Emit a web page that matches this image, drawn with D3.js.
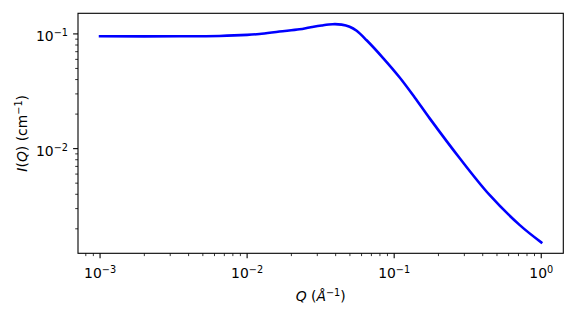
<!DOCTYPE html>
<html>
<head>
<meta charset="utf-8">
<script src="https://cdn.jsdelivr.net/npm/d3@7"></script>
<style>
  body { margin: 0; background: #fff; }
  svg { display: block; font-family: "DejaVu Sans", sans-serif; }
</style>
</head>
<body>
<div id="chart"></div>
<script>
// values
var qValues = [0.001, 0.003466, 0.006487, 0.01, 0.01212, 0.01659, 0.0227, 0.02655, 0.0321, 0.03814,
  0.04391, 0.04978, 0.05556, 0.06497, 0.08352, 0.109, 0.1379, 0.1744, 0.2792, 0.4468, 0.7149, 1.0];
var iValues = [0.0953, 0.0953, 0.0960, 0.0980, 0.0998, 0.1048, 0.1098, 0.1138, 0.1185, 0.1215,
  0.1205, 0.1155, 0.1065, 0.0880, 0.0622, 0.04169, 0.02793, 0.01835, 0.008237, 0.003925, 0.002153, 0.001523];
var xMajor = [1e-3, 1e-2, 1e-1, 1];
var xExp = ["\u22123", "\u22122", "\u22121", "0"];
var yMajor = [1e-2, 1e-1];
var yExp = ["\u22122", "\u22121"];

var width = 576, height = 316;
var plotL = 78, plotR = 563.3, plotT = 13.3, plotB = 253.3;
var fs = 13.9;

var data = qValues.map(function(q, i) { return { q: q, v: iValues[i] }; });

function padLog(ext) {
  var a = Math.log10(ext[0]), b = Math.log10(ext[1]), m = (b - a) * 0.05;
  return [Math.pow(10, a - m), Math.pow(10, b + m)];
}

var x = d3.scaleLog().domain(padLog(d3.extent(qValues))).range([plotL, plotR]);
var y = d3.scaleLog().domain(padLog(d3.extent(iValues))).range([plotB, plotT]);

var svg = d3.select("#chart").append("svg")
  .attr("width", width).attr("height", height);

function minorTicks(scale) {
  var d = scale.domain(), out = [];
  for (var e = Math.floor(Math.log10(d[0])); e <= Math.ceil(Math.log10(d[1])); e++) {
    for (var k = 2; k < 10; k++) {
      var v = k * Math.pow(10, e);
      if (v >= d[0] && v <= d[1]) out.push(v);
    }
  }
  return out;
}

// line
var valueline = d3.line()
  .x(function(d) { return x(d.q); })
  .y(function(d) { return y(d.v); })
  .curve(d3.curveCatmullRom.alpha(0.5));

svg.append("path").datum(data)
  .attr("d", valueline)
  .attr("fill", "none")
  .attr("stroke", "#0000ff")
  .attr("stroke-width", 2.6)
  .attr("stroke-linejoin", "round")
  .attr("stroke-linecap", "square");

// x ticks
var gx = svg.append("g").attr("stroke", "#000");
gx.selectAll(".maj").data(xMajor).enter().append("line")
  .attr("x1", function(d) { return x(d); }).attr("x2", function(d) { return x(d); })
  .attr("y1", plotB).attr("y2", plotB + 4.9).attr("stroke-width", 1.1);
gx.selectAll(".min").data(minorTicks(x)).enter().append("line")
  .attr("x1", function(d) { return x(d); }).attr("x2", function(d) { return x(d); })
  .attr("y1", plotB).attr("y2", plotB + 2.8).attr("stroke-width", 0.8);

var xl = svg.append("g").selectAll("text").data(xMajor).enter().append("text")
  .attr("x", function(d) { return x(d); })
  .attr("y", 277.7)
  .attr("text-anchor", "middle")
  .attr("font-size", fs);
xl.append("tspan").text("10");
xl.append("tspan").attr("dy", -5).attr("font-size", fs * 0.7)
  .text(function(d, i) { return xExp[i]; });

// y ticks
var gy = svg.append("g").attr("stroke", "#000");
gy.selectAll(".maj").data(yMajor).enter().append("line")
  .attr("y1", function(d) { return y(d); }).attr("y2", function(d) { return y(d); })
  .attr("x1", plotL).attr("x2", plotL - 4.9).attr("stroke-width", 1.1);
gy.selectAll(".min").data(minorTicks(y)).enter().append("line")
  .attr("y1", function(d) { return y(d); }).attr("y2", function(d) { return y(d); })
  .attr("x1", plotL).attr("x2", plotL - 2.8).attr("stroke-width", 0.8);

var yl = svg.append("g").selectAll("text").data(yMajor).enter().append("text")
  .attr("x", 68)
  .attr("y", function(d) { return y(d) + 7.3; })
  .attr("text-anchor", "end")
  .attr("font-size", fs);
yl.append("tspan").text("10");
yl.append("tspan").attr("dy", -5).attr("font-size", fs * 0.7)
  .text(function(d, i) { return yExp[i]; });

// frame
svg.append("rect")
  .attr("x", plotL).attr("y", plotT)
  .attr("width", plotR - plotL).attr("height", plotB - plotT)
  .attr("fill", "none").attr("stroke", "#000").attr("stroke-width", 1.1);

// axis labels
var xt = svg.append("text")
  .attr("x", (plotL + plotR) / 2).attr("y", 301)
  .attr("text-anchor", "middle").attr("font-size", fs);
xt.append("tspan").attr("font-style", "italic").text("Q");
xt.append("tspan").text(" (");
xt.append("tspan").attr("font-style", "italic").text("\u00c5");
xt.append("tspan").attr("dy", -5).attr("font-size", fs * 0.7).text("\u22121");
xt.append("tspan").attr("dy", 5).text(")");

var yt = svg.append("text")
  .attr("transform", "translate(26.5," + ((plotT + plotB) / 2) + ") rotate(-90)")
  .attr("text-anchor", "middle").attr("font-size", fs);
yt.append("tspan").attr("font-style", "italic").text("I");
yt.append("tspan").text("(");
yt.append("tspan").attr("font-style", "italic").text("Q");
yt.append("tspan").text(") (cm");
yt.append("tspan").attr("dy", -5).attr("font-size", fs * 0.7).text("\u22121");
yt.append("tspan").attr("dy", 5).text(")");
</script>
</body>
</html>
